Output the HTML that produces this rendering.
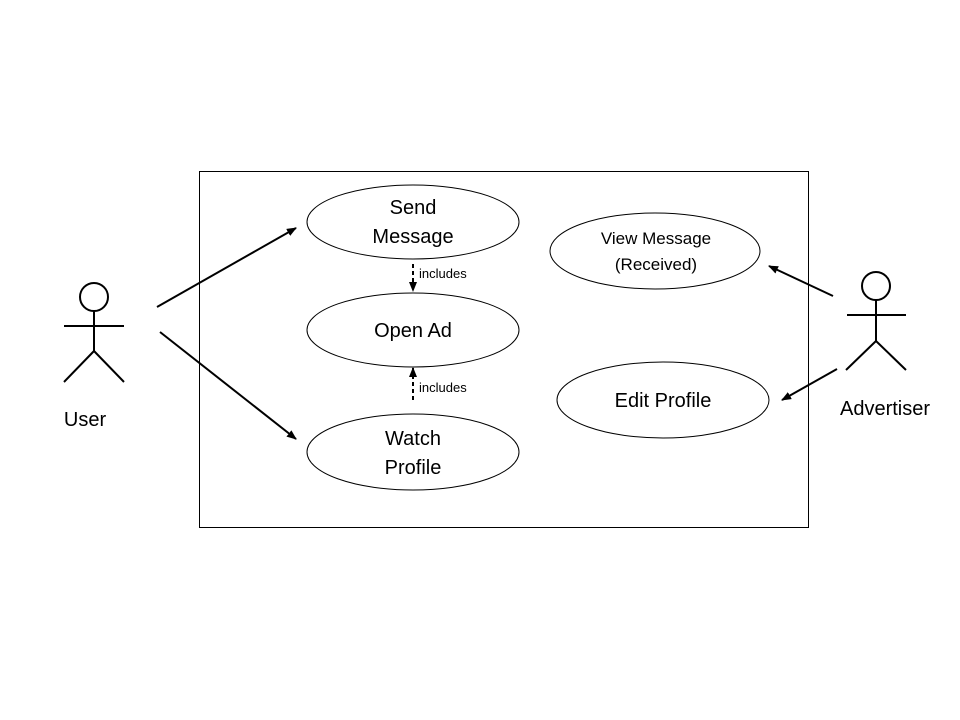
<!DOCTYPE html>
<html><head><style>body{margin:0;background:#fff}svg{display:block}text{font-family:"Liberation Sans",sans-serif;fill:#000}</style></head><body>
<svg width="960" height="720" viewBox="0 0 960 720">
<defs><marker id="a" markerWidth="10" markerHeight="8" refX="9" refY="4" orient="auto" markerUnits="userSpaceOnUse"><path d="M0,0L10,4L0,8z" fill="#000"/></marker></defs>
<rect x="199.5" y="171.5" width="609" height="356" fill="none" stroke="#000" stroke-width="1"/>
<g fill="none" stroke="#000" stroke-width="1">
<ellipse cx="413" cy="222" rx="106" ry="37"/>
<ellipse cx="413" cy="330" rx="106" ry="37"/>
<ellipse cx="413" cy="452" rx="106" ry="38"/>
<ellipse cx="655" cy="251" rx="105" ry="38"/>
<ellipse cx="663" cy="400" rx="106" ry="38"/>
</g>
<g stroke="#000" stroke-width="2" fill="none">
<circle cx="94" cy="297" r="14"/>
<path d="M94 311V351M64 326H124M94 351L64 382M94 351L124 382"/>
<circle cx="876" cy="286" r="14"/>
<path d="M876 300V341M847 315H906M876 341L846 370M876 341L906 370"/>
<line x1="157" y1="307" x2="296" y2="228" marker-end="url(#a)"/>
<line x1="160" y1="332" x2="296" y2="439" marker-end="url(#a)"/>
<line x1="833" y1="296" x2="769" y2="266" marker-end="url(#a)"/>
<line x1="837" y1="369" x2="782" y2="400" marker-end="url(#a)"/>
<line x1="413" y1="264" x2="413" y2="291" stroke-dasharray="4,3" marker-end="url(#a)"/>
<line x1="413" y1="400" x2="413" y2="368" stroke-dasharray="4,3" marker-end="url(#a)"/>
</g>
<g font-size="20" text-anchor="middle">
<text x="413" y="214">Send</text><text x="413" y="243">Message</text>
<text x="413" y="337">Open Ad</text>
<text x="413" y="445">Watch</text><text x="413" y="474">Profile</text>
<text x="663" y="407">Edit Profile</text>
<text x="85" y="426">User</text>
<text x="885" y="415">Advertiser</text>
</g>
<g font-size="17" text-anchor="middle">
<text x="656" y="244">View Message</text><text x="656" y="270">(Received)</text>
</g>
<g font-size="13"><text x="419" y="278">includes</text><text x="419" y="392">includes</text></g>
</svg></body></html>
